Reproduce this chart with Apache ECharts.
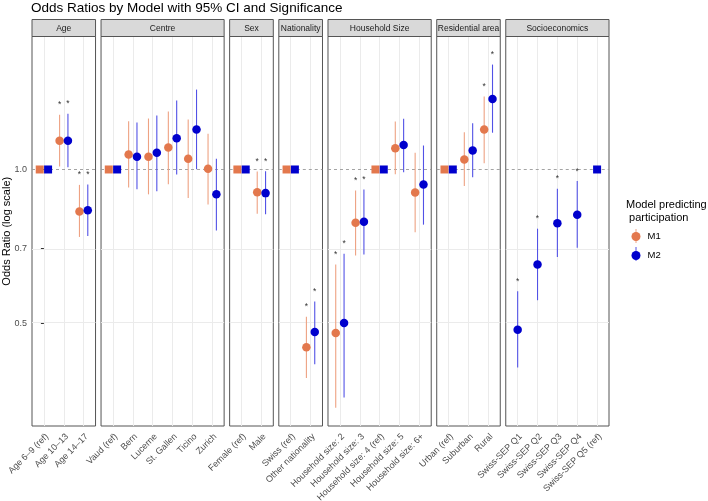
<!DOCTYPE html>
<html>
<head>
<meta charset="utf-8">
<script src="https://cdn.jsdelivr.net/npm/echarts@6.0.0/dist/echarts.min.js"></script>
<style>
  html, body { margin: 0; padding: 0; background: #fff; }
  #chart { width: 708px; height: 501px; }
</style>
</head>
<body>
<div id="chart"></div>
<script>
// facets and their categories
const facets = ['Age', 'Centre', 'Sex', 'Nationality', 'Household Size', 'Residential area', 'Socioeconomics'];
const categories = [
  ['Age 6–9 (ref)', 'Age 10–13', 'Age 14–17'],
  ['Vaud (ref)', 'Bern', 'Lucerne', 'St. Gallen', 'Ticino', 'Zurich'],
  ['Female (ref)', 'Male'],
  ['Swiss (ref)', 'Other nationality'],
  ['Household size: 2', 'Household size: 3', 'Household size: 4 (ref)', 'Household size: 5', 'Household size: 6+'],
  ['Urban (ref)', 'Suburban', 'Rural'],
  ['Swiss-SEP Q1', 'Swiss-SEP Q2', 'Swiss-SEP Q3', 'Swiss-SEP Q4', 'Swiss-SEP Q5 (ref)']
];

// M1 odds ratios, CI bounds, significance
const m1Or = [
  [1, 1.138, 0.828],
  [1, 1.070, 1.059, 1.104, 1.049, 1.003],
  [1, 0.903],
  [1, 0.449],
  [0.479, 0.787, 1, 1.100, 0.902],
  [1, 1.046, 1.197],
  [null, null, null, null, null]
];
const m1Lo = [
  [null, 1.014, 0.738],
  [null, 0.922, 0.894, 0.936, 0.879, 0.854],
  [null, 0.819],
  [null, 0.391],
  [0.342, 0.679, null, 0.979, 0.754],
  [null, 0.928, 1.029],
  [null, null, null, null, null]
];
const m1Hi = [
  [null, 1.280, 0.933],
  [null, 1.243, 1.258, 1.298, 1.252, 1.174],
  [null, 0.991],
  [null, 0.515],
  [0.652, 0.910, null, 1.241, 1.078],
  [null, 1.183, 1.389],
  [null, null, null, null, null]
];
const m1Sig = [
  [0, 1, 1],
  [0, 0, 0, 0, 0, 0],
  [0, 1],
  [0, 1],
  [1, 1, 0, 0, 0],
  [0, 0, 1],
  [0, 0, 0, 0, 0]
];

// M2 odds ratios, CI bounds, significance
const m2Or = [
  [1, 1.138, 0.832],
  [1, 1.059, 1.078, 1.151, 1.197, 0.894],
  [1, 0.899],
  [1, 0.481],
  [0.501, 0.790, 1, 1.116, 0.935],
  [1, 1.089, 1.374],
  [0.486, 0.652, 0.785, 0.816, 1]
];
const m2Lo = [
  [null, 1.010, 0.741],
  [null, 0.915, 0.907, 0.978, 1.001, 0.760],
  [null, 0.817],
  [null, 0.416],
  [0.358, 0.682, null, 0.988, 0.780],
  [null, 0.966, 1.180],
  [0.410, 0.555, 0.674, 0.703, null]
];
const m2Hi = [
  [null, 1.285, 0.935],
  [null, 1.235, 1.275, 1.364, 1.433, 1.049],
  [null, 0.992],
  [null, 0.552],
  [0.684, 0.914, null, 1.256, 1.114],
  [null, 1.232, 1.604],
  [0.578, 0.766, 0.917, 0.949, null]
];
const m2Sig = [
  [0, 1, 1],
  [0, 0, 0, 0, 0, 0],
  [0, 1],
  [0, 1],
  [1, 1, 0, 0, 0],
  [0, 0, 1],
  [1, 1, 1, 1, 0]
];

const yBreaks = [0.5, 0.7, 1.0];

// styling / layout
const FONT = '"Liberation Sans", Arial, sans-serif';
const M1_COL = '#E3784D', M1_BAR = '#EEA283';
const M2_COL = '#0000CD', M2_BAR = '#5252E6';
const panelLeft = 32, panelRight = 609, stripTop = 19.5, panelTop = 36.5, panelBottom = 426, gap = 5.5;
const yMin = Math.log(0.315), yMax = Math.log(1.82);

const units = categories.map(c => c.length - 1 + 1.2);
const unitPx = (panelRight - panelLeft - gap * (facets.length - 1)) / units.reduce((a, b) => a + b, 0);

const grid = [], xAxis = [], yAxis = [], series = [];
const graphic = [];
let px = panelLeft;

function starRender(params, api) {
  const p = api.coord([api.value(0), api.value(1)]);
  return {
    type: 'text', x: p[0], y: p[1],
    style: { text: '*', align: 'center', verticalAlign: 'middle', fontSize: 8.5, fill: '#333', fontFamily: FONT }
  };
}
function barRender(color) {
  return function (params, api) {
    const a = api.coord([api.value(0), api.value(1)]);
    const b = api.coord([api.value(0), api.value(2)]);
    return {
      type: 'line',
      shape: { x1: a[0], y1: a[1], x2: b[0], y2: b[1] },
      style: { stroke: color, lineWidth: 1.1 }
    };
  };
}

facets.forEach((name, i) => {
  const w = units[i] * unitPx;
  const n = categories[i].length;
  const idx = categories[i].map((_, k) => k);

  grid.push({
    left: px, top: panelTop, width: w, height: panelBottom - panelTop,
    show: true, borderColor: '#555', borderWidth: 1, backgroundColor: 'transparent',
    containLabel: false, outerBoundsMode: 'none'
  });
  xAxis.push({
    gridIndex: i, type: 'value', min: -0.6, max: n - 0.4,
    axisLine: { show: false }, splitLine: { show: false },
    axisTick: { show: true, customValues: idx, length: 3, lineStyle: { color: '#333', width: 1 } },
    axisLabel: {
      customValues: idx, rotate: 45, margin: 6, verticalAlign: 'top',
      formatter: v => categories[i][Math.round(v)] || '',
      fontSize: 9, color: '#4d4d4d', fontFamily: FONT
    }
  });
  yAxis.push({
    gridIndex: i, type: 'value', min: yMin, max: yMax,
    axisLine: { show: false }, splitLine: { show: false },
    axisTick: { show: i === 0, customValues: yBreaks.map(Math.log), length: 3, lineStyle: { color: '#333' } },
    axisLabel: {
      show: i === 0, customValues: yBreaks.map(Math.log), margin: 5,
      formatter: v => Math.exp(v).toFixed(1),
      fontSize: 9, color: '#4d4d4d', fontFamily: FONT
    },
    name: i === 0 ? 'Odds Ratio (log scale)' : '',
    nameLocation: 'middle', nameGap: 20, nameRotate: 90, nameMoveOverlap: false,
    nameTextStyle: { fontSize: 11, color: '#000', fontFamily: FONT }
  });

  // background grid lines + reference line at OR = 1
  series.push({
    type: 'line', xAxisIndex: i, yAxisIndex: i, data: [], silent: true, z: 1,
    markLine: {
      silent: true, symbol: 'none', label: { show: false }, animation: false, z: 1,
      lineStyle: { color: '#ebebeb', width: 1, type: 'solid' },
      data: idx.map(k => ({ xAxis: k }))
        .concat(yBreaks.filter(b => b !== 1).map(b => ({ yAxis: Math.log(b) })))
        .concat([{ yAxis: 0, lineStyle: { color: '#9a9a9a', width: 0.9, type: [3, 3] } }])
    }
  });

  const models = [
    { name: 'M1', or: m1Or[i], lo: m1Lo[i], hi: m1Hi[i], sig: m1Sig[i], col: M1_COL, bar: M1_BAR, side: -1 },
    { name: 'M2', or: m2Or[i], lo: m2Lo[i], hi: m2Hi[i], sig: m2Sig[i], col: M2_COL, bar: M2_BAR, side: 1 }
  ];
  models.forEach(m => {
    const xs = idx.map(k => {
      const both = m1Or[i][k] != null && m2Or[i][k] != null;
      return k + (both ? 0.21 * m.side : 0);
    });
    const bars = [], pts = [], stars = [];
    idx.forEach(k => {
      if (m.or[k] == null) return;
      if (m.lo[k] != null) bars.push([xs[k], Math.log(m.lo[k]), Math.log(m.hi[k])]);
      const isRef = m.lo[k] == null;
      pts.push({ value: [xs[k], Math.log(m.or[k])], symbol: isRef ? 'rect' : 'circle', symbolSize: isRef ? 8 : 8.5 });
      if (m.sig[k]) stars.push([xs[k], Math.log(m.hi[k] * 1.045)]);
    });
    if (!pts.length) return;
    series.push({
      type: 'custom', name: m.name + ' CI', xAxisIndex: i, yAxisIndex: i, z: 10,
      data: bars, renderItem: barRender(m.bar), encode: { x: 0, y: [1, 2] }, silent: true
    });
    series.push({
      type: 'scatter', name: m.name, xAxisIndex: i, yAxisIndex: i, z: 11,
      data: pts, itemStyle: { color: m.col, opacity: 1 }, silent: true
    });
    series.push({
      type: 'custom', name: m.name + ' sig', xAxisIndex: i, yAxisIndex: i, z: 12,
      data: stars, renderItem: starRender, encode: { x: 0, y: 1 }, silent: true
    });
  });

  // facet strip
  graphic.push({
    type: 'rect', shape: { x: px, y: stripTop, width: w, height: panelTop - stripTop },
    style: { fill: '#d9d9d9', stroke: '#555', lineWidth: 1 }, z: 10
  });
  graphic.push({
    type: 'text', x: px + w / 2, y: (stripTop + panelTop) / 2 + 0.5,
    style: { text: name, align: 'center', verticalAlign: 'middle', fontSize: 8.5, fontWeight: 'normal', fill: '#1a1a1a', fontFamily: FONT }, z: 11
  });

  px += w + gap;
});

// legend title and key lines
const legX = 636, legY1 = 236, legY2 = 254;
graphic.push({
  type: 'text', left: 626, top: 198,
  style: { text: 'Model predicting\n participation', fontSize: 11, lineHeight: 13, fill: '#000', fontFamily: FONT }
});
graphic.push({ type: 'line', shape: { x1: legX, y1: legY1 - 7, x2: legX, y2: legY1 + 7 }, style: { stroke: M1_BAR, lineWidth: 1 }, z: 0 });
graphic.push({ type: 'line', shape: { x1: legX, y1: legY2 - 7, x2: legX, y2: legY2 + 7 }, style: { stroke: M2_BAR, lineWidth: 1 }, z: 0 });

const chart = echarts.init(document.getElementById('chart'), null, { renderer: 'canvas' });
chart.setOption({
  animation: false,
  backgroundColor: '#fff',
  title: {
    text: 'Odds Ratios by Model with 95% CI and Significance',
    left: 31, top: 1, padding: 0,
    textStyle: { fontSize: 13.5, fontWeight: 'normal', color: '#000', fontFamily: FONT }
  },
  legend: {
    data: ['M1', 'M2'], orient: 'vertical', left: legX - 4.5, top: legY1 - 4.5,
    icon: 'circle', itemWidth: 9, itemHeight: 9, itemGap: 9, padding: 0,
    selectedMode: false,
    textStyle: { fontSize: 9.5, color: '#000', fontFamily: FONT, padding: [0, 0, 0, 2] }
  },
  grid, xAxis, yAxis, series, graphic
});
</script>
</body>
</html>
